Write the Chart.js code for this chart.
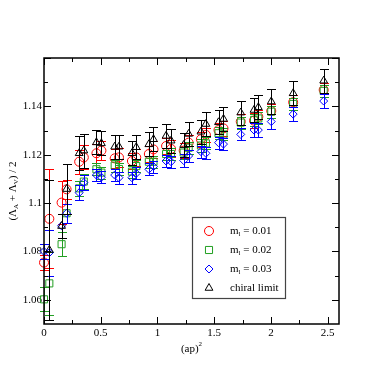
<!DOCTYPE html>
<html>
<head>
<meta charset="utf-8">
<script src="https://cdn.jsdelivr.net/npm/chart.js@4.4.1/dist/chart.umd.min.js"></script>
<style>
  html, body { margin: 0; padding: 0; background: #fff; }
  #wrap { width: 382px; height: 382px; }
</style>
</head>
<body>
<div id="wrap"><canvas id="chart" width="382" height="382"></canvas></div>
<script>
// (ap)^2 momenta
const xValues = [0, 0.047, 0.155, 0.199, 0.31, 0.351, 0.462, 0.506, 0.623, 0.661, 0.775, 0.813, 0.924, 0.965,
    1.076, 1.12, 1.231, 1.275, 1.383, 1.427, 1.538, 1.582, 1.734, 1.851, 1.889, 2.003, 2.196, 2.465];

const m001 = [1.0754, 1.0935, 1.1002, 1.1057, 1.1171, 1.1189, 1.1206, 1.1217, 1.1185, 1.1189, 1.1174, 1.1189, 1.1203, 1.1222,
    1.1236, 1.1224, 1.1217, 1.1250, 1.1264, 1.1282, 1.1302, 1.1309, 1.1337, 1.1341, 1.1357, 1.1381, 1.1417, 1.1468];
const m001Err = [0.003, 0.0205, 0.009, 0.004, 0.005, 0.005, 0.004, 0.004, 0.004, 0.004, 0.0035, 0.0035, 0.0035, 0.0035,
    0.0035, 0.0035, 0.003, 0.003, 0.003, 0.003, 0.003, 0.003, 0.003, 0.003, 0.003, 0.003, 0.003, 0.003];

const m002 = [1.0602, 1.0668, 1.0830, 1.0958, 1.1061, 1.1089, 1.1140, 1.1126, 1.1155, 1.1141, 1.1130, 1.1153, 1.1171, 1.1171,
    1.1203, 1.1203, 1.1209, 1.1229, 1.1238, 1.1247, 1.1289, 1.1284, 1.1333, 1.1344, 1.1350, 1.1378, 1.1410, 1.1464];
const m002Err = [0.005, 0.013, 0.005, 0.004, 0.003, 0.003, 0.0025, 0.0025, 0.0025, 0.0025, 0.0025, 0.0025, 0.0025, 0.0025,
    0.0025, 0.0025, 0.0025, 0.0025, 0.0025, 0.0025, 0.0025, 0.0025, 0.0025, 0.0025, 0.0025, 0.0025, 0.0025, 0.0025];

const m003 = [1.0800, 1.0795, 1.0906, 1.0958, 1.1043, 1.1085, 1.1116, 1.1107, 1.1116, 1.1105, 1.1105, 1.1123, 1.1140, 1.1151,
    1.1174, 1.1171, 1.1176, 1.1195, 1.1213, 1.1206, 1.1250, 1.1244, 1.1284, 1.1302, 1.1302, 1.1337, 1.1368, 1.1422];
const m003Err = [0.003, 0.0095, 0.005, 0.004, 0.003, 0.003, 0.0025, 0.0025, 0.0025, 0.0025, 0.0025, 0.0025, 0.0025, 0.0025,
    0.0025, 0.0025, 0.0025, 0.0025, 0.0025, 0.0025, 0.0025, 0.0025, 0.0025, 0.003, 0.003, 0.003, 0.003, 0.003];

const chiral = [null, 1.0806, 1.0905, 1.1058, 1.1206, 1.1217, 1.1251, 1.1247, 1.1233, 1.1233, 1.1206, 1.1231, 1.1243, 1.1264,
    1.1278, 1.1258, 1.1240, 1.1286, 1.1295, 1.1327, 1.1334, 1.1348, 1.1374, 1.1385, 1.1396, 1.1420, 1.1454, 1.1506];
const chiralErr = [null, 0.029, 0.005, 0.0105, 0.007, 0.007, 0.005, 0.005, 0.005, 0.005, 0.005, 0.005, 0.005, 0.005,
    0.005, 0.005, 0.005, 0.005, 0.005, 0.005, 0.005, 0.005, 0.005, 0.005, 0.005, 0.005, 0.005, 0.005];

const massLabels = ['0.01', '0.02', '0.03'];
const chiralLabel = 'chiral limit';

const xTickValues = [0, 0.5, 1, 1.5, 2, 2.5];
const xTickLabels = ['0', '0.5', '1', '1.5', '2', '2.5'];
const yTickValues = [1.06, 1.08, 1.1, 1.12, 1.14];
const yTickLabels = ['1.06', '1.08', '1.1', '1.12', '1.14'];

const FONT = '"Liberation Serif", "DejaVu Serif", serif';

function toPoints(ys) {
    return xValues.map((x, i) => ({ x: x, y: ys[i] }));
}

// draws text with sub/superscript pieces, centred on (x, y)
function drawRich(ctx, parts, x, y, size) {
    const small = Math.round(size * 0.65);
    let total = 0;
    parts.forEach(p => {
        ctx.font = (p.sub || p.sup ? small : size) + 'px ' + FONT;
        p.w = ctx.measureText(p.t).width;
        total += p.w;
    });
    let cx = x - total / 2;
    ctx.textBaseline = 'middle';
    ctx.textAlign = 'left';
    parts.forEach(p => {
        ctx.font = (p.sub || p.sup ? small : size) + 'px ' + FONT;
        let dy = 0;
        if (p.sub) dy = size * 0.3;
        if (p.sup) dy = -size * 0.4;
        ctx.fillText(p.t, cx, y + dy);
        cx += p.w;
    });
}

function drawRichLeft(ctx, parts, x, y, size) {
    const small = Math.round(size * 0.65);
    let w = 0;
    parts.forEach(p => {
        ctx.font = (p.sub ? small : size) + 'px ' + FONT;
        w += ctx.measureText(p.t).width;
    });
    drawRich(ctx, parts, x + w / 2, y, size);
}

const errorBars = {
    id: 'errorBars',
    beforeDatasetDraw(chart, args) {
        const ds = chart.data.datasets[args.index];
        if (!ds.errors) return;
        const { ctx, scales: { x, y } } = chart;
        ctx.save();
        ctx.strokeStyle = ds.borderColor;
        ctx.lineWidth = 1;
        ds.data.forEach((p, i) => {
            const e = ds.errors[i];
            if (p.y == null || e == null) return;
            const px = Math.round(x.getPixelForValue(p.x)) + 0.5;
            const top = Math.round(y.getPixelForValue(p.y + e)) + 0.5;
            const bot = Math.round(y.getPixelForValue(p.y - e)) + 0.5;
            ctx.beginPath();
            ctx.moveTo(px, top); ctx.lineTo(px, bot);
            ctx.moveTo(px - 4.5, top); ctx.lineTo(px + 4.5, top);
            ctx.moveTo(px - 4.5, bot); ctx.lineTo(px + 4.5, bot);
            ctx.stroke();
        });
        ctx.restore();
    }
};

const frameAndTitles = {
    id: 'frameAndTitles',
    afterDraw(chart) {
        const { ctx, chartArea: a, scales: { x, y } } = chart;
        ctx.save();
        ctx.strokeStyle = '#000';
        ctx.lineWidth = 1.5;
        ctx.strokeRect(a.left, a.top, a.right - a.left, a.bottom - a.top);

        // inward ticks on all four sides
        ctx.lineWidth = 1;
        ctx.beginPath();
        for (let v = x.min; v <= x.max + 1e-9; v += 0.25) {
            const major = Math.abs(v / 0.5 - Math.round(v / 0.5)) < 1e-6;
            const len = major ? 7 : 4;
            const px = Math.round(x.getPixelForValue(v)) + 0.5;
            ctx.moveTo(px, a.bottom); ctx.lineTo(px, a.bottom - len);
            ctx.moveTo(px, a.top); ctx.lineTo(px, a.top + len);
        }
        for (let v = 1.06; v <= y.max + 1e-9; v += 0.01) {
            const major = Math.abs(v / 0.02 - Math.round(v / 0.02)) < 1e-6;
            const len = major ? 7 : 4;
            const py = Math.round(y.getPixelForValue(v)) + 0.5;
            ctx.moveTo(a.left, py); ctx.lineTo(a.left + len, py);
            ctx.moveTo(a.right, py); ctx.lineTo(a.right - len, py);
        }
        ctx.stroke();

        ctx.fillStyle = '#000';
        // x title
        drawRich(ctx, [{ t: '(ap)' }, { t: '2', sup: true }], (a.left + a.right) / 2, 349, 11);
        // y title
        ctx.save();
        ctx.translate(13, (a.top + a.bottom) / 2);
        ctx.rotate(-Math.PI / 2);
        drawRich(ctx, [{ t: '(Λ' }, { t: 'A', sub: true }, { t: ' + Λ' }, { t: 'V', sub: true }, { t: ') / 2' }], 0, 0, 11);
        ctx.restore();

        // legend
        const bx = 192, by = 217, bw = 93, bh = 81;
        ctx.fillStyle = '#fff';
        ctx.fillRect(bx, by, bw, bh);
        ctx.strokeStyle = '#444';
        ctx.lineWidth = 1.2;
        ctx.strokeRect(bx + 0.5, by + 0.5, bw, bh);
        chart.data.datasets.forEach((ds, i) => {
            const ry = 231 + i * 19;
            ctx.strokeStyle = ds.borderColor;
            ctx.fillStyle = 'rgba(0,0,0,0)';
            ctx.lineWidth = 1;
            Chart.helpers.drawPoint(ctx, {
                pointStyle: ds.pointStyle, radius: ds.pointRadius, borderWidth: 1, rotation: 0
            }, 209, ry);
            ctx.fillStyle = '#000';
            if (i < massLabels.length) {
                drawRichLeft(ctx, [{ t: 'm' }, { t: 'l', sub: true }, { t: ' = ' + massLabels[i] }], 230, ry, 11);
            } else {
                drawRichLeft(ctx, [{ t: chiralLabel }], 230, ry, 11);
            }
        });
        ctx.restore();
    }
};

const ctx = document.getElementById('chart').getContext('2d');
new Chart(ctx, {
    type: 'scatter',
    data: {
        datasets: [
            { label: 'm1 = 0.01', data: toPoints(m001), errors: m001Err, borderColor: '#ff0000', pointStyle: 'circle', pointRadius: 4.5, order: 3 },
            { label: 'm1 = 0.02', data: toPoints(m002), errors: m002Err, borderColor: '#229f22', pointStyle: 'rect', pointRadius: 5, order: 2 },
            { label: 'm1 = 0.03', data: toPoints(m003), errors: m003Err, borderColor: '#0000ff', pointStyle: 'rectRot', pointRadius: 4, order: 1 },
            { label: 'chiral limit', data: toPoints(chiral), errors: chiralErr, borderColor: '#000000', pointStyle: 'triangle', pointRadius: 4.5, order: 0 }
        ].map(ds => Object.assign(ds, {
            backgroundColor: 'rgba(0,0,0,0)',
            pointBorderWidth: 1,
            pointHoverRadius: ds.pointRadius,
            clip: false
        }))
    },
    options: {
        responsive: false,
        animation: false,
        events: [],
        layout: { padding: { left: 0, top: 58, right: 43, bottom: 0 } },
        plugins: {
            legend: { display: false },
            tooltip: { enabled: false }
        },
        scales: {
            x: {
                type: 'linear',
                min: 0,
                max: 2.6,
                grid: { display: false, drawTicks: false },
                border: { display: false },
                afterBuildTicks: s => { s.ticks = xTickValues.map(v => ({ value: v })); },
                afterFit: s => { s.height = 58; },
                ticks: {
                    padding: 3,
                    color: '#000',
                    font: { family: FONT, size: 11 },
                    maxRotation: 0,
                    callback: (v, i) => xTickLabels[i]
                }
            },
            y: {
                type: 'linear',
                min: 1.05,
                max: 1.16,
                grid: { display: false, drawTicks: false },
                border: { display: false },
                afterBuildTicks: s => { s.ticks = yTickValues.map(v => ({ value: v })); },
                afterFit: s => { s.width = 44; },
                ticks: {
                    padding: 2,
                    color: '#000',
                    font: { family: FONT, size: 11 },
                    callback: (v, i) => yTickLabels[i]
                }
            }
        }
    },
    plugins: [errorBars, frameAndTitles]
});
</script>
</body>
</html>
